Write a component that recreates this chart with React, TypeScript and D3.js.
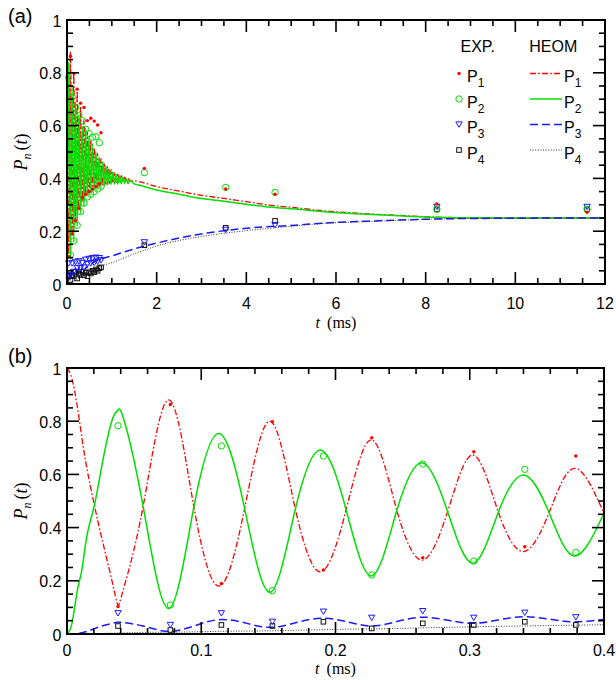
import React from "react"
import * as d3 from "d3"

// ---- HEOM theory, panel (b) grid: early rise, then extrema + P1/P2 crossings (t in ms)
const heomTimeB = [0, 0.0037, 0.0075, 0.0112, 0.0149, 0.0204, 0.026, 0.0335, 0.0378, 0.0421, 0.0567, 0.0756, 0.0945, 0.1134, 0.1323, 0.1512, 0.1701, 0.189, 0.2079, 0.2268, 0.2457, 0.2646, 0.2835, 0.3024, 0.3213, 0.3402, 0.3591, 0.378, 0.4]
const heomP1B = [1.0, 0.96, 0.86, 0.734, 0.62, 0.484, 0.358, 0.2, 0.11, 0.17, 0.48, 0.88, 0.478, 0.18, 0.472, 0.8, 0.47, 0.234, 0.467, 0.73, 0.465, 0.278, 0.46, 0.673, 0.458, 0.31, 0.456, 0.623, 0.454]
const heomP2B = [0, 0.04, 0.158, 0.245, 0.371, 0.484, 0.634, 0.803, 0.84, 0.81, 0.48, 0.096, 0.478, 0.754, 0.472, 0.157, 0.47, 0.692, 0.467, 0.218, 0.465, 0.644, 0.46, 0.266, 0.458, 0.598, 0.456, 0.293, 0.454]
const heomP3B = [0, 0, 0.001, 0.005, 0.01, 0.02, 0.03, 0.04, 0.044, 0.043, 0.03, 0.01, 0.03, 0.054, 0.042, 0.025, 0.042, 0.059, 0.047, 0.03, 0.047, 0.063, 0.052, 0.04, 0.053, 0.065, 0.056, 0.046, 0.055]
const heomP4B = [0, 0, 0, 0, 0.001, 0.001, 0.002, 0.003, 0.004, 0.004, 0.006, 0.007, 0.008, 0.01, 0.011, 0.012, 0.014, 0.016, 0.018, 0.019, 0.021, 0.023, 0.025, 0.027, 0.029, 0.03, 0.032, 0.033, 0.035]

// ---- HEOM theory, panel (a) continuation after 0.4 ms
const heomOscTimeA = [0.416, 0.454, 0.491, 0.529, 0.567, 0.605, 0.643, 0.68, 0.718, 0.756, 0.794, 0.832, 0.869, 0.907, 0.945, 0.983, 1.021, 1.058, 1.096, 1.134, 1.172, 1.21, 1.247, 1.285, 1.323, 1.361, 1.399, 1.5, 1.6, 2.0, 2.5, 2.86, 3.5, 4.0, 4.5, 5.09, 5.75, 6.69, 7.5, 8.17, 9.0, 9.66, 12]
const heomP1A = [0.33, 0.575, 0.34, 0.545, 0.35, 0.516, 0.362, 0.495, 0.368, 0.475, 0.373, 0.458, 0.377, 0.445, 0.38, 0.433, 0.382, 0.424, 0.384, 0.416, 0.386, 0.41, 0.388, 0.405, 0.389, 0.401, 0.39, 0.391, 0.388, 0.369, 0.352, 0.34, 0.324, 0.312, 0.299, 0.289, 0.277, 0.266, 0.259, 0.2535, 0.251, 0.25, 0.25]
const heomP2A = [0.59, 0.335, 0.56, 0.345, 0.53, 0.356, 0.502, 0.362, 0.482, 0.368, 0.463, 0.372, 0.447, 0.375, 0.434, 0.377, 0.424, 0.378, 0.416, 0.379, 0.409, 0.38, 0.404, 0.381, 0.399, 0.38, 0.394, 0.379, 0.375, 0.356, 0.34, 0.328, 0.313, 0.302, 0.292, 0.284, 0.274, 0.264, 0.258, 0.2525, 0.251, 0.25, 0.25]
const heomSmoothTimeA = [0.5, 0.62, 0.8, 1.07, 1.4, 1.74, 2.0, 2.86, 4.0, 5.09, 5.75, 6.69, 8.17, 9.66, 12]
const heomP3A = [0.07, 0.085, 0.097, 0.11, 0.128, 0.144, 0.155, 0.186, 0.211, 0.223, 0.231, 0.238, 0.246, 0.249, 0.25]
const heomP4A = [0.045, 0.058, 0.07, 0.085, 0.108, 0.129, 0.144, 0.176, 0.202, 0.22, 0.23, 0.236, 0.246, 0.249, 0.25]

// ---- experiment, first 0.4 ms (shown in both panels)
const expTimeB = [0.038, 0.077, 0.115, 0.153, 0.191, 0.227, 0.265, 0.303, 0.341, 0.379]
const expP1B = [0.103, 0.863, 0.19, 0.798, 0.241, 0.738, 0.287, 0.685, 0.328, 0.669]
const expP2B = [0.783, 0.109, 0.707, 0.163, 0.669, 0.222, 0.639, 0.274, 0.619, 0.307]
const expP3B = [0.078, 0.034, 0.078, 0.046, 0.084, 0.061, 0.086, 0.061, 0.08, 0.063]
const expP4B = [0.03, 0.015, 0.034, 0.03, 0.046, 0.021, 0.04, 0.034, 0.046, 0.034]

// ---- experiment, later times (panel a only)
const expTimeA = [0.417, 0.455, 0.493, 0.531, 0.569, 0.607, 0.645, 0.683, 0.721, 0.759, 1.725, 3.54, 4.64, 8.25, 11.6]
const expP1A = [0.34, 0.619, 0.35, 0.628, 0.36, 0.617, 0.37, 0.602, 0.38, 0.573, 0.438, 0.36, 0.34, 0.303, 0.272]
const expP2A = [0.586, 0.33, 0.57, 0.34, 0.556, 0.35, 0.558, 0.36, 0.535, 0.37, 0.422, 0.366, 0.347, 0.283, 0.283]
const expP3A = [0.092, 0.075, 0.095, 0.078, 0.098, 0.08, 0.1, 0.085, 0.098, 0.09, 0.158, 0.205, 0.223, 0.292, 0.292]
const expP4A = [0.042, 0.03, 0.045, 0.04, 0.05, 0.045, 0.055, 0.05, 0.06, 0.063, 0.147, 0.213, 0.239, 0.283, 0.283]

// ---- axes
const xTicksA = [0, 2, 4, 6, 8, 10, 12]
const xTicksB = [0, 0.1, 0.2, 0.3, 0.4]
const yTicks = [0, 0.2, 0.4, 0.6, 0.8, 1]
const seriesNames = ["P1", "P2", "P3", "P4"]

const SANS = "'Liberation Sans', Arial, Helvetica, sans-serif"
const SERIF = "'Liberation Serif', 'Times New Roman', serif"

const RED = "#ff0000"
const GREEN = "#00e000"
const BLUE = "#1a1aff"

const lineStyle = {
	P1: { stroke: RED, width: 1.3, dash: "6 2.2 1.6 2.2" },
	P2: { stroke: GREEN, width: 1.5, dash: undefined },
	P3: { stroke: BLUE, width: 1.5, dash: "8 4" },
	P4: { stroke: "#333", width: 1, dash: "1 1.6" },
}

const Marker = ({ kind, x, y }) => {
	if (kind === "P1") return <circle cx={x} cy={y} r={1.7} fill={RED} />
	if (kind === "P2")
		return <circle cx={x} cy={y} r={3.2} fill="none" stroke={GREEN} strokeWidth={1} />
	if (kind === "P3")
		return (
			<path
				d={`M${x - 3.2},${y - 2.6}L${x + 3.2},${y - 2.6}L${x},${y + 2.8}Z`}
				fill="none"
				stroke={BLUE}
				strokeWidth={1}
			/>
		)
	return <rect x={x - 2.3} y={y - 2.3} width={4.6} height={4.6} fill="none" stroke="#111" strokeWidth={1} />
}

const Panel = ({ frame, xMax, xTicks, xMinorStep, tag, tagY, lines, points, curve, xLabelY, titleY, legend }) => {
	const { left, right, top, bottom } = frame
	const sx = d3.scaleLinear().domain([0, xMax]).range([left, right])
	const sy = d3.scaleLinear().domain([0, 1]).range([bottom, top])

	const near = (list, v) => list.some(m => Math.abs(m - v) < 1e-9)
	const xMinor = d3.range(0, xMax + 1e-9, xMinorStep).filter(v => !near(xTicks, v))
	const yMinor = d3.range(0, 1 + 1e-9, 0.05).filter(v => !near(yTicks, v))
	const MAJ = 12
	const MIN = 6

	return (
		<g>
			{/* theory curves */}
			{lines.map(s => {
				const st = lineStyle[s.key]
				const path = d3
					.line()
					.x((_, i) => sx(s.t[i]))
					.y(d => sy(d))
					.curve(curve)(s.v)
				return (
					<path
						key={s.key}
						d={path}
						fill="none"
						stroke={st.stroke}
						strokeWidth={st.width}
						strokeDasharray={st.dash}
					/>
				)
			})}

			{/* experimental points */}
			{points.map(s =>
				s.t.map((t, i) => <Marker key={s.key + i} kind={s.key} x={sx(t)} y={sy(s.v[i])} />),
			)}

			{/* frame + ticks (inward, mirrored) */}
			<g stroke="#000" strokeWidth={1.6}>
				{xTicks.map(v => (
					<g key={"xM" + v}>
						<line x1={sx(v)} x2={sx(v)} y1={bottom} y2={bottom - MAJ} />
						<line x1={sx(v)} x2={sx(v)} y1={top} y2={top + MAJ} />
					</g>
				))}
				{xMinor.map(v => (
					<g key={"xm" + v}>
						<line x1={sx(v)} x2={sx(v)} y1={bottom} y2={bottom - MIN} />
						<line x1={sx(v)} x2={sx(v)} y1={top} y2={top + MIN} />
					</g>
				))}
				{yTicks.map(v => (
					<g key={"yM" + v}>
						<line x1={left} x2={left + MAJ} y1={sy(v)} y2={sy(v)} />
						<line x1={right} x2={right - MAJ} y1={sy(v)} y2={sy(v)} />
					</g>
				))}
				{yMinor.map(v => (
					<g key={"ym" + v}>
						<line x1={left} x2={left + MIN} y1={sy(v)} y2={sy(v)} />
						<line x1={right} x2={right - MIN} y1={sy(v)} y2={sy(v)} />
					</g>
				))}
			</g>
			<rect x={left} y={top} width={right - left} height={bottom - top} fill="none" stroke="#000" strokeWidth={2} />

			{/* tick labels */}
			<g fontFamily={SANS} fontSize={16} fill="#000">
				{xTicks.map(v => (
					<text key={"xl" + v} x={sx(v)} y={xLabelY} textAnchor="middle">
						{String(v)}
					</text>
				))}
				{yTicks.map(v => (
					<text key={"yl" + v} x={left - 5.5} y={sy(v) + 6.5} textAnchor="end">
						{String(v)}
					</text>
				))}
			</g>

			{/* axis titles */}
			<text x={(left + right) / 2} y={titleY} textAnchor="middle" fontFamily={SERIF} fontSize={16}>
				<tspan fontStyle="italic">t</tspan>
				<tspan dx={7}>(ms)</tspan>
			</text>
			<text
				transform={`translate(27, ${(top + bottom) / 2}) rotate(-90)`}
				textAnchor="middle"
				fontFamily={SERIF}
				fontSize={18}
			>
				<tspan fontStyle="italic">P</tspan>
				<tspan fontStyle="italic" fontSize={12} dy={4}>
					n
				</tspan>
				<tspan dy={-4} dx={3}>
					(
				</tspan>
				<tspan fontStyle="italic">t</tspan>
				<tspan>)</tspan>
			</text>

			<text x={8} y={tagY} fontFamily={SANS} fontSize={20}>
				{tag}
			</text>

			{legend && (
				<g fontFamily={SANS} fill="#000">
					<text x={460.5} y={51.7} fontSize={16}>
						EXP.
					</text>
					<text x={529.3} y={51.7} fontSize={16}>
						HEOM
					</text>
					{seriesNames.map((k, i) => {
						const base = 82 + i * 25.5
						const st = lineStyle[k]
						return (
							<g key={"lg" + k}>
								<Marker kind={k} x={459} y={base - 8.5} />
								<text x={467} y={base} fontSize={16}>
									P
									<tspan fontSize={12} dy={5}>
										{k.slice(1)}
									</tspan>
								</text>
								<line
									x1={530}
									x2={562}
									y1={base - 8.5}
									y2={base - 8.5}
									stroke={st.stroke}
									strokeWidth={st.width}
									strokeDasharray={st.dash}
								/>
								<text x={564} y={base} fontSize={16}>
									P
									<tspan fontSize={12} dy={5}>
										{k.slice(1)}
									</tspan>
								</text>
							</g>
						)
					})}
				</g>
			)}
		</g>
	)
}

const App = () => {
	const linesA = [
		{ key: "P1", t: heomTimeB.concat(heomOscTimeA), v: heomP1B.concat(heomP1A) },
		{ key: "P2", t: heomTimeB.concat(heomOscTimeA), v: heomP2B.concat(heomP2A) },
		{ key: "P3", t: heomTimeB.concat(heomSmoothTimeA), v: heomP3B.concat(heomP3A) },
		{ key: "P4", t: heomTimeB.concat(heomSmoothTimeA), v: heomP4B.concat(heomP4A) },
	]
	const linesB = [
		{ key: "P1", t: heomTimeB, v: heomP1B },
		{ key: "P2", t: heomTimeB, v: heomP2B },
		{ key: "P3", t: heomTimeB, v: heomP3B },
		{ key: "P4", t: heomTimeB, v: heomP4B },
	]
	const expTA = expTimeB.concat(expTimeA)
	const pointsA = [
		{ key: "P4", t: expTA, v: expP4B.concat(expP4A) },
		{ key: "P3", t: expTA, v: expP3B.concat(expP3A) },
		{ key: "P2", t: expTA, v: expP2B.concat(expP2A) },
		{ key: "P1", t: expTA, v: expP1B.concat(expP1A) },
	]
	const pointsB = [
		{ key: "P4", t: expTimeB, v: expP4B },
		{ key: "P3", t: expTimeB, v: expP3B },
		{ key: "P2", t: expTimeB, v: expP2B },
		{ key: "P1", t: expTimeB, v: expP1B },
	]

	return (
		<svg
			width={616}
			height={680}
			viewBox="0 0 616 680"
			style={{ position: "absolute", left: 0, top: 0, display: "block", background: "#fff" }}
		>
			<Panel
				frame={{ left: 67, right: 605, top: 20, bottom: 284 }}
				xMax={12}
				xTicks={xTicksA}
				xMinorStep={0.5}
				tag="(a)"
				tagY={22.5}
				lines={linesA}
				points={pointsA}
				curve={d3.curveMonotoneX}
				xLabelY={309}
				titleY={327.5}
				legend
			/>
			<Panel
				frame={{ left: 67, right: 604, top: 368, bottom: 634 }}
				xMax={0.4}
				xTicks={xTicksB}
				xMinorStep={0.02}
				tag="(b)"
				tagY={362.5}
				lines={linesB}
				points={pointsB}
				curve={d3.curveNatural}
				xLabelY={655.5}
				titleY={674}
			/>
		</svg>
	)
}

export default App
